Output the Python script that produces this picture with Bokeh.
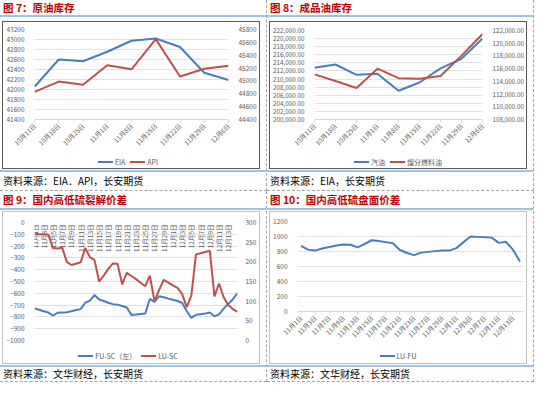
import math
from bokeh.plotting import figure
from bokeh.models import (Range1d, LinearAxis, FixedTicker, Div, NumeralTickFormatter)
from bokeh.core.properties import value
from bokeh.layouts import column, row
from bokeh.embed import file_html
from bokeh.resources import INLINE

FONT = "Noto Sans CJK SC"
BLUE = "#4A7EBB"
RED = "#C0504D"
GRID = "#D9D9D9"
LBL = "#595959"

# ---------------- data ----------------
# 图7 原油库存
eia_dates = ["10月11日", "10月18日", "10月25日", "11月1日", "11月8日", "11月15日", "11月22日", "11月29日", "12月6日"]
eia_crude = [42055, 42600, 42565, 42755, 42975, 43020, 42850, 42335, 42190]
api_crude = [44830, 44990, 44940, 45245, 45180, 45650, 45070, 45190, 45235]
crude_left_ticks = [41400, 41600, 41800, 42000, 42200, 42400, 42600, 42800, 43000, 43200]
crude_right_ticks = [44400, 44600, 44800, 45000, 45200, 45400, 45600, 45800]

# 图8 成品油库存
gasoline = [212800, 213600, 211050, 211300, 207100, 209150, 212650, 215000, 220000]
distillate = [115100, 114050, 112950, 116000, 114500, 114400, 114850, 118050, 121450]
prod_left_ticks = [200000, 202000, 204000, 206000, 208000, 210000, 212000, 214000, 216000, 218000, 220000, 222000]
prod_right_ticks = [108000, 110000, 112000, 114000, 116000, 118000, 120000, 122000]

# 图9 国内高低硫裂解价差
crack_dates = ["11月%d日" % d for d in range(1, 31)] + ["12月%d日" % d for d in range(1, 16)]
fu_sc = [-728, -740, -752, -762, -790, -765, -762, -760, -752, -742,
         -734, -680, -662, -615, -652, -665, -680, -692, -696, -708,
         -720, -783, -780, -776, -772, -648, -672, -625, -633, -645,
         -655, -665, -680, -752, -808, -782, -778, -772, -762, -795,
         -778, -730, -690, -650, -598]
lu_sc = [271, 270, 270, 269, 235, 234, 236, 200, 192, 195,
         199, 235, 212, 205, 150, 165, 182, 196, 195, 143,
         172, 164, 156, 147, 138, 165, 100, 128, 154, 147,
         140, 134, 118, 85, 115, 219, 222, 225, 228, 112,
         145, 110, 90, 80, 73]
crack_left_ticks = [-1000, -900, -800, -700, -600, -500, -400, -300, -200, -100, 0]
crack_right_ticks = [0, 50, 100, 150, 200, 250, 300]

# 图10 国内高低硫盘面价差
lufu_dates = ["11月1日", "11月2日", "11月3日", "11月6日", "11月7日", "11月8日", "11月9日", "11月10日",
              "11月13日", "11月14日", "11月15日", "11月16日", "11月17日", "11月20日", "11月21日",
              "11月22日", "11月23日", "11月24日", "11月27日", "11月28日", "11月29日", "11月30日",
              "12月1日", "12月4日", "12月5日", "12月6日", "12月7日", "12月8日", "12月11日",
              "12月12日", "12月13日", "12月14日"]
lu_fu = [875, 825, 812, 840, 860, 880, 892, 890, 855, 900, 950, 940, 925, 910, 820, 780,
         752, 785, 795, 805, 812, 812, 845, 925, 1000, 995, 990, 985, 915, 930, 825, 668]
lufu_ticks = [0, 200, 400, 600, 800, 1000, 1200]


# ---------------- helpers ----------------
def style_y(ax, fs="6.5px", standoff=4):
    ax.major_label_text_font = FONT
    ax.major_label_text_font_size = fs
    ax.major_label_text_color = LBL
    ax.axis_line_color = None
    ax.major_tick_line_color = None
    ax.minor_tick_line_color = None
    ax.major_label_standoff = standoff


def style_x(ax, labels, ticks, angle):
    ax.ticker = FixedTicker(ticks=ticks)
    ax.major_label_overrides = {i: labels[i] for i in ticks}
    ax.major_label_orientation = angle
    ax.major_label_text_font = FONT
    ax.major_label_text_font_size = "6.5px"
    ax.major_label_text_color = LBL
    ax.axis_line_color = GRID
    ax.major_tick_line_color = GRID
    ax.major_tick_out = 3
    ax.major_tick_in = 0
    ax.minor_tick_line_color = None
    ax.major_label_standoff = 2


def base_fig(w, h, xr, yr, l, r, t, b):
    p = figure(width=w, height=h, x_range=xr, y_range=yr, output_backend="svg",
               toolbar_location=None, min_border_left=l, min_border_right=r,
               min_border_top=t, min_border_bottom=b)
    p.outline_line_color = None
    p.xgrid.visible = False
    p.ygrid.grid_line_color = GRID
    p.ygrid.grid_line_width = 0.8
    p.margin = 0
    return p


def legend_div(entries, h, shift=0):
    parts = []
    for k, (label, color) in enumerate(entries):
        gap = "margin-left:5px;" if k else ""
        parts.append('<span style="display:inline-block;width:15px;height:0;'
                     'border-top:2px solid %s;vertical-align:middle;margin-right:2px;%s"></span>'
                     '<span style="vertical-align:middle">%s</span>' % (color, gap, label))
    return Div(text="".join(parts), width=256, height=h, margin=0,
               styles={"font-family": FONT, "font-size": "7px", "color": LBL,
                       "text-align": "center", "line-height": "%dpx" % h,
                       "white-space": "nowrap", "box-sizing": "border-box",
                       "padding-right": "%dpx" % shift})


def title_div(text, h):
    return Div(text=text, width=266, height=h, margin=0,
               styles={"font-family": FONT, "font-weight": "bold", "font-size": "10.5px",
                       "color": "#C00000", "border-bottom": "2px solid #9DC3E6",
                       "box-sizing": "border-box", "padding-left": "3px",
                       "line-height": "%dpx" % (h - 2), "white-space": "nowrap"})


def src_div(text, h):
    return Div(text=text, width=266, height=h, margin=0,
               styles={"font-family": FONT, "font-size": "10px", "color": "#000000",
                       "border-top": "2px solid #9DC3E6", "box-sizing": "border-box",
                       "padding-left": "3px", "line-height": "%dpx" % (h - 2),
                       "white-space": "nowrap"})


def cell(title, fig, leg, border, src, th, sh, mtop):
    box = column(fig, leg, spacing=0, margin=(mtop, 0, 1, 2),
                 styles={"border": "1px solid %s" % border})
    return column(title_div(title, th), box, src_div(src, sh), spacing=0, margin=0,
                  styles={"border-right": "1px dashed #A6A6A6",
                          "border-bottom": "1px dashed #A6A6A6"})


# ---------------- 图7 ----------------
xi = list(range(len(eia_dates)))
p1 = base_fig(256, 133, Range1d(0, len(eia_dates) - 1),
              Range1d(crude_left_ticks[0], crude_left_ticks[-1]), 24, 31, 7, 36)
p1.extra_y_ranges = {"api": Range1d(crude_right_ticks[0], crude_right_ticks[-1])}
p1.yaxis.ticker = FixedTicker(ticks=crude_left_ticks)
style_y(p1.yaxis[0])
ra1 = LinearAxis(y_range_name="api", ticker=FixedTicker(ticks=crude_right_ticks))
style_y(ra1)
p1.add_layout(ra1, "right")
style_x(p1.xaxis[0], eia_dates, xi, math.pi / 4)
p1.line(xi, eia_crude, line_color=BLUE, line_width=2)
p1.line(xi, api_crude, line_color=RED, line_width=2, y_range_name="api")
l1 = legend_div([("EIA", BLUE), ("API", RED)], 13, 6)

# ---------------- 图8 ----------------
p2 = base_fig(256, 133, Range1d(0, len(eia_dates) - 1),
              Range1d(prod_left_ticks[0], prod_left_ticks[-1]), 37, 35, 8, 36)
p2.extra_y_ranges = {"dist": Range1d(prod_right_ticks[0], prod_right_ticks[-1])}
p2.yaxis.ticker = FixedTicker(ticks=prod_left_ticks)
p2.yaxis.formatter = NumeralTickFormatter(format="0,0.00")
style_y(p2.yaxis[0], "6.3px")
ra2 = LinearAxis(y_range_name="dist", ticker=FixedTicker(ticks=prod_right_ticks),
                 formatter=NumeralTickFormatter(format="0,0.00"))
style_y(ra2, "6.3px")
p2.add_layout(ra2, "right")
style_x(p2.xaxis[0], eia_dates, xi, math.pi / 4)
p2.line(xi, gasoline, line_color=BLUE, line_width=2)
p2.line(xi, distillate, line_color=RED, line_width=2, y_range_name="dist")
l2 = legend_div([("汽油", BLUE), ("馏分燃料油", RED)], 13, 0)

# ---------------- 图9 ----------------
xc = list(range(len(crack_dates)))
p3 = base_fig(256, 135, Range1d(0, len(crack_dates) - 1),
              Range1d(crack_left_ticks[0], crack_left_ticks[-1]), 24, 17, 10, 7)
p3.extra_y_ranges = {"lu": Range1d(crack_right_ticks[0], crack_right_ticks[-1])}
p3.yaxis.ticker = FixedTicker(ticks=crack_left_ticks)
style_y(p3.yaxis[0])
ra3 = LinearAxis(y_range_name="lu", ticker=FixedTicker(ticks=crack_right_ticks))
style_y(ra3, standoff=2)
p3.add_layout(ra3, "right")
p3.xaxis.visible = False
# category labels hang from the zero line (the category axis crosses at 0, the top)
crack_label_idx = list(range(0, len(crack_dates) - 2, 2))
p3.text(x=crack_label_idx, y=[crack_left_ticks[-1]] * len(crack_label_idx),
        text=[crack_dates[i] for i in crack_label_idx], angle=math.pi / 2,
        text_align="right", text_baseline="middle", y_offset=2,
        text_font=value(FONT), text_font_size="6.5px", text_color=LBL)
p3.line(xc, fu_sc, line_color=BLUE, line_width=2)
p3.line(xc, lu_sc, line_color=RED, line_width=2, y_range_name="lu")
l3 = legend_div([("FU-SC（左）", BLUE), ("LU-SC", RED)], 16, 6)

# ---------------- 图10 ----------------
xl = list(range(len(lufu_dates)))
p4 = base_fig(256, 135, Range1d(-0.5, len(lufu_dates) - 0.5),
              Range1d(lufu_ticks[0], lufu_ticks[-1]), 24, 3, 9, 36)
p4.yaxis.ticker = FixedTicker(ticks=lufu_ticks)
style_y(p4.yaxis[0])
style_x(p4.xaxis[0], lufu_dates, list(range(0, len(lufu_dates), 2)), math.pi / 4)
p4.line(xl, lu_fu, line_color=BLUE, line_width=2)
l4 = legend_div([("LU-FU", BLUE)], 16, 0)

# ---------------- layout ----------------
c1 = cell("图 7：原油库存", p1, l1, "#595959", "资料来源：EIA．API，长安期货", 17, 20, 4)
c2 = cell("图 8：成品油库存", p2, l2, "#595959", "资料来源：EIA，长安期货", 17, 20, 4)
c3 = cell("图 9：国内高低硫裂解价差", p3, l3, "#BFBFBF", "资料来源：文华财经，长安期货", 19, 16, 1)
c4 = cell("图 10：国内高低硫盘面价差", p4, l4, "#BFBFBF", "资料来源：文华财经，长安期货", 19, 16, 1)

layout = column(row(c1, c2, spacing=0, margin=0), row(c3, c4, spacing=0, margin=0),
                spacing=0, margin=0)
open("out.html", "w").write(file_html(layout, INLINE))
